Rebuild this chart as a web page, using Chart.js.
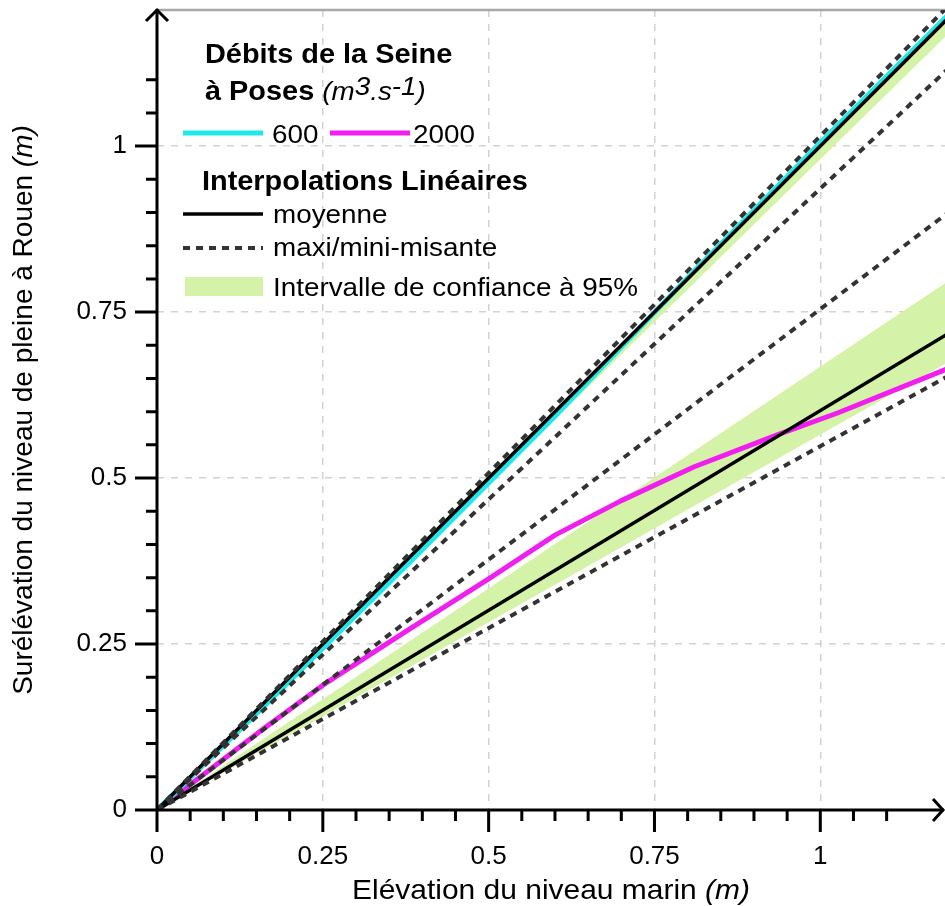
<!DOCTYPE html>
<html>
<head>
<meta charset="utf-8">
<script src="https://cdn.jsdelivr.net/npm/chart.js@4.4.1/dist/chart.umd.min.js"></script>
<style>
  html, body { margin: 0; padding: 0; background: #fff; }
  canvas { display: block; }
</style>
</head>
<body>
<canvas id="chart" width="945" height="906"></canvas>
<script>
const FONT = '"Liberation Sans", Arial, sans-serif'

// --- data ---
// sea level rise (x) sample points
const xLine = [0, 1.25]
const x600 = [0, 0.16, 0.38, 0.6, 0.81, 1.0, 1.2]
const x2000 = [0, 0.16, 0.25, 0.38, 0.5, 0.6, 0.7, 0.81, 0.935, 1.026, 1.2]

// Seine discharge 600 m3/s
const q600 = [0, 0.155, 0.372, 0.593, 0.812, 1.005, 1.205]
const mean600 = [0, 1.25]
const band600Hi = [0, 1.256]
const band600Lo = [0, 1.225]
const max600 = [0, 1.269]
const min600 = [0, 1.17]

// Seine discharge 2000 m3/s
const q2000 = [0, 0.122, 0.188, 0.272, 0.348, 0.414, 0.466, 0.517, 0.565, 0.598, 0.668]
const mean2000 = [0, 0.752]
const band2000Hi = [0, 0.835]
const band2000Lo = [0, 0.707]
const max2000 = [0, 0.943]
const min2000 = [0, 0.685]

const majorTicks = [0, 0.25, 0.5, 0.75, 1]
const minorStep = 0.05
const minorCount = 22   // minor ticks up to 1.1

const CYAN = '#1ee8ea'
const MAGENTA = '#f01ff0'
const GREEN = '#d5f3a8'
const DASH = '#333333'

const pts = (xs, ys) => xs.map((x, i) => ({ x, y: ys[i] }))

function txt(ctx, s, x, y, font, sx = 1) {
  ctx.save()
  ctx.font = font
  ctx.translate(x, y)
  ctx.scale(sx, 1)
  ctx.fillText(s, 0, 0)
  const w = ctx.measureText(s).width * sx
  ctx.restore()
  return w
}

// --- frame, axes with arrows and minor ticks ---
const frame = {
  id: 'frame',
  beforeDatasetsDraw(chart) {
    const { ctx, chartArea: a, scales: { x } } = chart
    ctx.save()
    ctx.strokeStyle = '#a8a8a8'
    ctx.lineWidth = 2.5
    ctx.beginPath()
    ctx.moveTo(x.getPixelForValue(0), a.top)
    ctx.lineTo(a.right, a.top)
    ctx.stroke()
    ctx.restore()
  },
  afterDatasetsDraw(chart) {
    const { ctx, chartArea: a, scales: { x, y } } = chart
    const x0 = x.getPixelForValue(0), y0 = y.getPixelForValue(0)
    ctx.save()
    ctx.strokeStyle = '#000'
    ctx.lineWidth = 3
    ctx.beginPath()
    ctx.moveTo(x0 - 22, y0); ctx.lineTo(a.right - 1, y0)
    ctx.moveTo(x0, y0 + 22); ctx.lineTo(x0, a.top - 1)
    for (let i = 1; i <= minorCount; i++) {
      const v = i * minorStep
      const len = i % 5 === 0 ? 22 : 11
      const px = x.getPixelForValue(v), py = y.getPixelForValue(v)
      ctx.moveTo(px, y0); ctx.lineTo(px, y0 + len)
      ctx.moveTo(x0, py); ctx.lineTo(x0 - len, py)
    }
    ctx.stroke()
    // arrow heads
    ctx.lineJoin = 'miter'
    ctx.beginPath()
    ctx.moveTo(a.right - 12, y0 - 11); ctx.lineTo(a.right - 2, y0); ctx.lineTo(a.right - 12, y0 + 11)
    ctx.moveTo(x0 - 11, a.top + 11); ctx.lineTo(x0, a.top); ctx.lineTo(x0 + 11, a.top + 11)
    ctx.stroke()
    ctx.restore()
  },
  afterDraw(chart) {
    const { ctx, chartArea: a } = chart
    ctx.save()
    ctx.fillStyle = '#000'
    ctx.textBaseline = 'alphabetic'
    const sx = 1.07

    // x title
    const f1 = `28px ${FONT}`, f2 = `italic 28px ${FONT}`
    ctx.font = f1
    const w1 = ctx.measureText('Elévation du niveau marin ').width * sx
    ctx.font = f2
    const w2 = ctx.measureText('(m)').width * sx
    let tx = (a.left + a.right) / 2 - (w1 + w2) / 2
    tx += txt(ctx, 'Elévation du niveau marin ', tx, 899, f1, sx)
    txt(ctx, '(m)', tx, 899, f2, sx)

    // y title
    ctx.save()
    ctx.translate(32, (a.top + a.bottom) / 2)
    ctx.rotate(-Math.PI / 2)
    ctx.font = f1
    const v1 = ctx.measureText('Surélévation du niveau de pleine à Rouen ').width
    ctx.font = f2
    const v2 = ctx.measureText('(m)').width
    let ty = -(v1 + v2) / 2
    ctx.font = f1
    ctx.fillText('Surélévation du niveau de pleine à Rouen ', ty, 0)
    ctx.font = f2
    ctx.fillText('(m)', ty + v1, 0)
    ctx.restore()

    // legend
    const fb = `bold 27px ${FONT}`, fn = `26px ${FONT}`, fi = `italic 26px ${FONT}`
    txt(ctx, 'Débits de la Seine', 205, 63, fb, sx)
    let lx = 205 + txt(ctx, 'à Poses ', 205, 100, fb, sx)
    lx += txt(ctx, '(m', lx, 100, fi, sx)
    lx += txt(ctx, '3', lx, 95, fi, sx)
    lx += txt(ctx, '.s', lx, 100, fi, sx)
    lx += txt(ctx, '-1', lx, 95, fi, sx)
    txt(ctx, ')', lx, 100, fi, sx)

    const seg = (x1, x2, yy, color, width, dash) => {
      ctx.save()
      ctx.strokeStyle = color
      ctx.lineWidth = width
      ctx.setLineDash(dash || [])
      ctx.beginPath(); ctx.moveTo(x1, yy); ctx.lineTo(x2, yy); ctx.stroke()
      ctx.restore()
    }
    seg(183, 263, 133, CYAN, 5)
    txt(ctx, '600', 272, 143, fn, sx)
    seg(330, 410, 133, MAGENTA, 5)
    txt(ctx, '2000', 413, 143, fn, sx)

    txt(ctx, 'Interpolations Linéaires', 202, 190, fb, sx)
    seg(183, 263, 214, '#000', 3.5)
    txt(ctx, 'moyenne', 273, 223, fn, sx)
    seg(183, 263, 248, DASH, 4, [7, 6])
    txt(ctx, 'maxi/mini-misante', 273, 256, fn, sx)
    ctx.fillStyle = GREEN
    ctx.fillRect(185, 277, 78, 19)
    ctx.fillStyle = '#000'
    txt(ctx, 'Intervalle de confiance à 95%', 273, 296, fn, sx)
    ctx.restore()
  }
}

const lineStyle = { pointRadius: 0, tension: 0, fill: false, borderJoinStyle: 'round' }

new Chart(document.getElementById('chart'), {
  type: 'line',
  data: {
    datasets: [
      { ...lineStyle, label: 'max 600', data: pts(xLine, max600), borderColor: DASH, borderWidth: 4, borderDash: [7, 6], order: 0 },
      { ...lineStyle, label: 'min 600', data: pts(xLine, min600), borderColor: DASH, borderWidth: 4, borderDash: [7, 6], order: 0 },
      { ...lineStyle, label: 'max 2000', data: pts(xLine, max2000), borderColor: DASH, borderWidth: 4, borderDash: [7, 6], order: 0 },
      { ...lineStyle, label: 'min 2000', data: pts(xLine, min2000), borderColor: DASH, borderWidth: 4, borderDash: [7, 6], order: 0 },
      { ...lineStyle, label: 'moyenne 600', data: pts(xLine, mean600), borderColor: '#000', borderWidth: 3.5, order: 1 },
      { ...lineStyle, label: 'moyenne 2000', data: pts(xLine, mean2000), borderColor: '#000', borderWidth: 3.5, order: 1 },
      { ...lineStyle, label: '600', data: pts(x600, q600), borderColor: CYAN, borderWidth: 5, order: 2 },
      { ...lineStyle, label: '2000', data: pts(x2000, q2000), borderColor: MAGENTA, borderWidth: 5, order: 2 },
      { ...lineStyle, label: 'IC bas 600', data: pts(xLine, band600Lo), borderWidth: 0, order: 3 },
      { ...lineStyle, label: 'IC haut 600', data: pts(xLine, band600Hi), borderWidth: 0, backgroundColor: GREEN, fill: '-1', order: 3 },
      { ...lineStyle, label: 'IC bas 2000', data: pts(xLine, band2000Lo), borderWidth: 0, order: 3 },
      { ...lineStyle, label: 'IC haut 2000', data: pts(xLine, band2000Hi), borderWidth: 0, backgroundColor: GREEN, fill: '-1', order: 3 },
    ]
  },
  options: {
    responsive: false,
    animation: false,
    devicePixelRatio: 1,
    layout: { padding: { top: 10, right: 0, left: 0, bottom: 0 } },
    plugins: { legend: { display: false }, tooltip: { enabled: false } },
    scales: {
      x: {
        type: 'linear',
        min: 0,
        max: 1.188,
        afterBuildTicks: s => { s.ticks = majorTicks.map(value => ({ value })) },
        afterFit: s => { s.height = 96; s.paddingLeft = 0; s.paddingRight = 0 },
        ticks: { color: '#000', font: { family: FONT, size: 26 }, padding: 31, maxRotation: 0, callback: v => String(v) },
        grid: { color: '#d2d2d2', lineWidth: 1.5, drawTicks: false },
        border: { display: false, dash: [7, 7] }
      },
      y: {
        type: 'linear',
        min: 0,
        max: 1.205,
        afterBuildTicks: s => { s.ticks = majorTicks.map(value => ({ value })) },
        afterFit: s => { s.width = 157; s.paddingTop = 0; s.paddingBottom = 0 },
        ticks: { color: '#000', font: { family: FONT, size: 26 }, padding: 30, callback: v => String(v) },
        grid: { color: '#d2d2d2', lineWidth: 1.5, drawTicks: false },
        border: { display: false, dash: [7, 7] }
      }
    }
  },
  plugins: [frame]
})
</script>
</body>
</html>
